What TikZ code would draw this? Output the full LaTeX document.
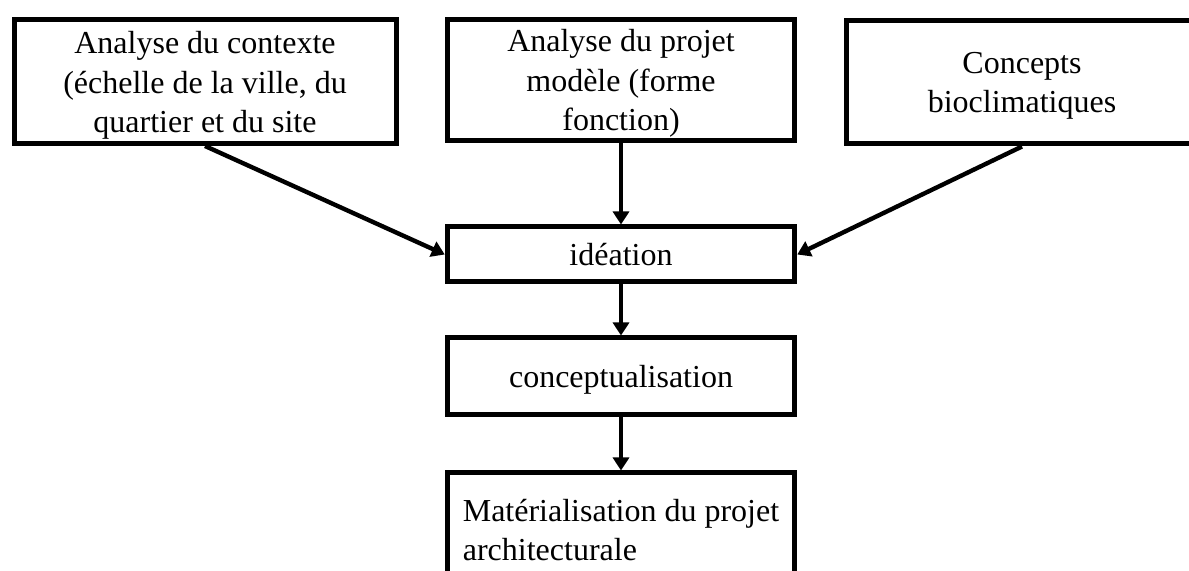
\documentclass[tikz,border=0pt]{standalone}
\usepackage{fontspec}
\setmainfont{Liberation Serif}
\usetikzlibrary{arrows.meta}
\tikzset{
  box/.style={draw, line width=2.5pt, font=\fontsize{16}{18.7}\selectfont, align=center, inner xsep=0pt, inner ysep=0pt, anchor=north},
  arr/.style={line width=2.2pt, -{Triangle[length=6.5pt,width=8pt]}}
}
\begin{document}
\begin{tikzpicture}[x=0.5pt,y=-0.5pt]
\useasboundingbox (0,0) rectangle (1189,571);
\clip (0,0) rectangle (1189,571);
\node[box, minimum width=191pt, text height=56.25pt, text depth=5.5pt] (ctx) at (205,17.5)
  {Analyse du contexte\\[1pt](échelle de la ville, du\\[1pt]quartier et du site};
\node[box, minimum width=173.75pt, text height=55.5pt, text depth=5.25pt] (mod) at (621,17)
  {Analyse du projet\\[1pt]modèle (forme\\[1pt]fonction)};
\node[box, minimum width=175.5pt, text height=46pt, text depth=15.75pt] (bio) at (1022,18)
  {Concepts\\[1pt]bioclimatiques};
\node[box, minimum width=173.75pt, text height=19.25pt, text depth=8.25pt] (ide) at (621,224.5)
  {idéation};
\node[box, minimum width=173.75pt, text height=24.75pt, text depth=13.75pt] (con) at (621,335.5)
  {conceptualisation};
\node[box, align=left, minimum width=173.75pt, text height=43.75pt, text depth=40pt] (mat) at (621,470.5)
  {Matérialisation du projet\\[1pt]architecturale};
\draw[arr] (ctx.south) -- (ide.west);
\draw[arr] (mod.south) -- (ide.north);
\draw[arr] (bio.south) -- (ide.east);
\draw[arr] (ide.south) -- (con.north);
\draw[arr] (con.south) -- (mat.north);
\end{tikzpicture}
\end{document}
